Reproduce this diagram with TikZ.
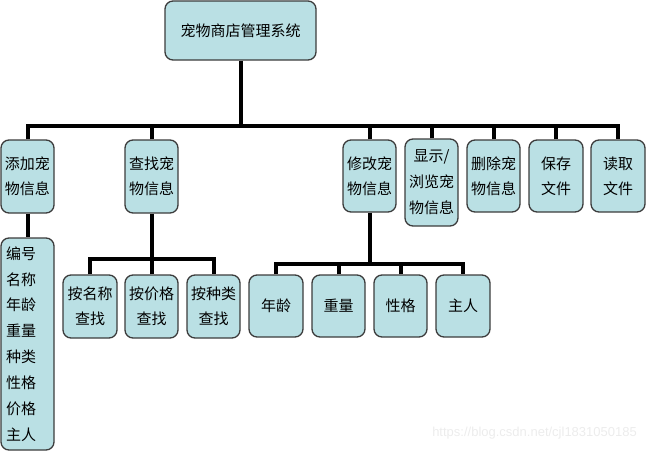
\documentclass[tikz,border=0pt]{standalone}
\usepackage{fontspec}
\setmainfont{Liberation Sans}
\newfontfamily\cjk{Noto Sans CJK SC}
\definecolor{boxfill}{RGB}{186,224,228}
\definecolor{boxline}{RGB}{60,60,60}
\definecolor{wm}{RGB}{236,236,236}
\begin{document}
\begin{tikzpicture}[x=1pt,y=-1pt,
  box/.style={draw=boxline, fill=boxfill, rounded corners=8pt, line width=1.3pt,
    inner sep=0pt, align=center, font=\cjk\fontsize{15}{25}\selectfont},
  conn/.style={line width=4pt, line join=miter, draw=black}]
\useasboundingbox (0,0) rectangle (647,452);
% nodes
\node[box, minimum width=151pt, minimum height=59pt] (root) at (240.5,30.5) {宠物商店管理系统};
\node[box, minimum width=53pt, minimum height=73pt] (a1) at (27.5,176.5) {添加宠\\物信息};
\node[box, minimum width=53pt, minimum height=73pt] (a2) at (151.5,176.5) {查找宠\\物信息};
\node[box, minimum width=53pt, minimum height=72pt] (a3) at (369.5,176) {修改宠\\物信息};
\node[box, minimum width=53pt, minimum height=87pt, font=\cjk\fontsize{15}{26}\selectfont] (a4) at (431.5,182.5) {显示/\\浏览宠\\物信息};
\node[box, minimum width=53pt, minimum height=72pt] (a5) at (493.5,176) {删除宠\\物信息};
\node[box, minimum width=54pt, minimum height=72pt] (a6) at (556,176) {保存\\文件};
\node[box, minimum width=54pt, minimum height=72pt] (a7) at (618,176) {读取\\文件};
\node[box, minimum width=53pt, minimum height=212pt, align=left, text width=43pt, inner xsep=5pt,
  font=\cjk\fontsize{15}{25.9}\selectfont] (t1) at (27.5,344) {编号\\名称\\年龄\\重量\\种类\\性格\\价格\\主人};
\node[box, minimum width=54pt, minimum height=63pt] (f1) at (90,306.5) {按名称\\查找};
\node[box, minimum width=53pt, minimum height=63pt] (f2) at (151.5,306.5) {按价格\\查找};
\node[box, minimum width=53pt, minimum height=63pt] (f3) at (213.5,306.5) {按种类\\查找};
\node[box, minimum width=54pt, minimum height=62pt] (m1) at (276,306) {年龄};
\node[box, minimum width=53pt, minimum height=62pt] (m2) at (338.5,306) {重量};
\node[box, minimum width=53pt, minimum height=62pt] (m3) at (400.5,306) {性格};
\node[box, minimum width=54pt, minimum height=62pt] (m4) at (463,306) {主人};
% bus coordinates
\coordinate (bus) at (0,125.5);
\coordinate (fbus) at (0,259);
\coordinate (mbus) at (0,264);
% connectors
\draw[conn] (root.south) -- (root.south |- bus);
\draw[conn] (a1.north) -- (a1.north |- bus) -- (a7.north |- bus) -- (a7.north);
\foreach \n in {a2,a3,a4,a5,a6}{\draw[conn] (\n.north) -- (\n.north |- bus);}
\draw[conn] (a1.south) -- (t1.north);
\draw[conn] (a2.south) -- (a2.south |- fbus);
\draw[conn] (f1.north) -- (f1.north |- fbus) -- (f3.north |- fbus) -- (f3.north);
\draw[conn] (f2.north) -- (f2.north |- fbus);
\draw[conn] (a3.south) -- (a3.south |- mbus);
\draw[conn] (m1.north) -- (m1.north |- mbus) -- (m4.north |- mbus) -- (m4.north);
\foreach \n in {m2,m3}{\draw[conn] (\n.north) -- (\n.north |- mbus);}
% watermark
\node[anchor=east, text=wm, font=\fontsize{13}{15}\selectfont, inner sep=0pt] (wmark) at (637,433) {https://blog.csdn.net/cjl1831050185};
\end{tikzpicture}
\end{document}
